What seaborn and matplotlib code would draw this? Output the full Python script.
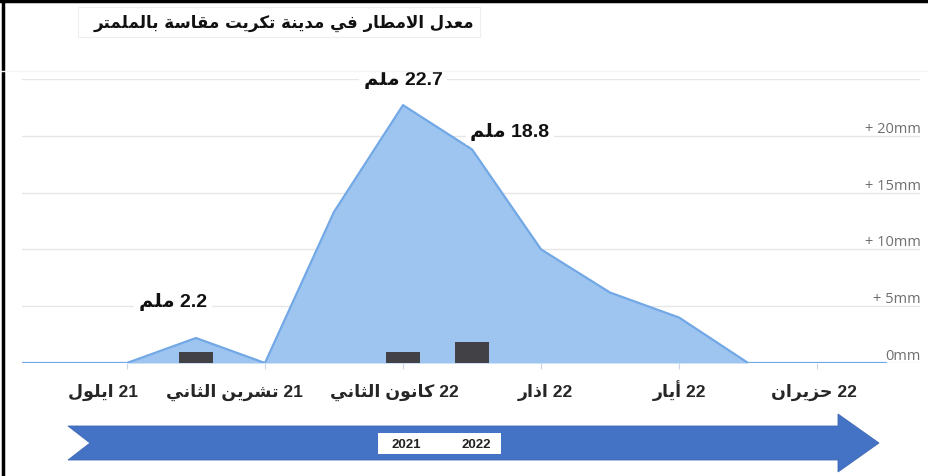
import numpy as np
import seaborn as sns
import matplotlib.pyplot as plt
import matplotlib.transforms as mtransforms
from matplotlib.patches import Polygon, Rectangle
from matplotlib.lines import Line2D

# monthly rainfall (mm), one point per month, index 0 = Sep 2021
months_idx = list(range(11))
rain = [0, 2.2, 0, 13.3, 22.7, 18.8, 10.0, 6.2, 4.0, 0, 0]

# dark bars (previous season)
bar_idx = [1, 4, 5]
bar_vals = [1.0, 1.0, 1.85]

# labelled points
label_idx = [1, 4, 5]
label_vals = [2.2, 22.7, 18.8]

tick_idx = [0, 2, 4, 6, 8, 10]
tick_months = ['ايلول', 'تشرين الثاني', 'كانون الثاني', 'اذار', 'أيار', 'حزيران']
tick_years = ['21', '21', '22', '22', '22', '22']

yticks = [0, 5, 10, 15, 20, 25]
ytick_labels = ['0mm', '+ 5mm', '+ 10mm', '+ 15mm', '+ 20mm', '']

title = 'معدل الامطار في مدينة تكريت مقاسة بالملمتر'
unit = 'ملم'
years = ['2021', '2022']

# --- minimal arabic shaping (matplotlib has no bidi / joining) ---
FORMS = {
    'ا': ('\uFE8D', '\uFE8E', None, None),
    'أ': ('\uFE83', '\uFE84', None, None),
    'ب': ('\uFE8F', '\uFE90', '\uFE91', '\uFE92'),
    'ة': ('\uFE93', '\uFE94', None, None),
    'ت': ('\uFE95', '\uFE96', '\uFE97', '\uFE98'),
    'ث': ('\uFE99', '\uFE9A', '\uFE9B', '\uFE9C'),
    'ح': ('\uFEA1', '\uFEA2', '\uFEA3', '\uFEA4'),
    'د': ('\uFEA9', '\uFEAA', None, None),
    'ذ': ('\uFEAB', '\uFEAC', None, None),
    'ر': ('\uFEAD', '\uFEAE', None, None),
    'ز': ('\uFEAF', '\uFEB0', None, None),
    'س': ('\uFEB1', '\uFEB2', '\uFEB3', '\uFEB4'),
    'ش': ('\uFEB5', '\uFEB6', '\uFEB7', '\uFEB8'),
    'ط': ('\uFEC1', '\uFEC2', '\uFEC3', '\uFEC4'),
    'ع': ('\uFEC9', '\uFECA', '\uFECB', '\uFECC'),
    'ف': ('\uFED1', '\uFED2', '\uFED3', '\uFED4'),
    'ق': ('\uFED5', '\uFED6', '\uFED7', '\uFED8'),
    'ك': ('\uFED9', '\uFEDA', '\uFEDB', '\uFEDC'),
    'ل': ('\uFEDD', '\uFEDE', '\uFEDF', '\uFEE0'),
    'م': ('\uFEE1', '\uFEE2', '\uFEE3', '\uFEE4'),
    'ن': ('\uFEE5', '\uFEE6', '\uFEE7', '\uFEE8'),
    'و': ('\uFEED', '\uFEEE', None, None),
    'ي': ('\uFEF1', '\uFEF2', '\uFEF3', '\uFEF4'),
}
LAM_ALEF = {'ا': ('\uFEFB', '\uFEFC'), 'أ': ('\uFEF7', '\uFEF8')}


def shape(text):
    units = []
    i = 0
    while i < len(text):
        c = text[i]
        if c == 'ل' and i + 1 < len(text) and text[i + 1] in LAM_ALEF:
            units.append(('LA', text[i + 1]))
            i += 2
        else:
            units.append(('C', c))
            i += 1

    def joins_next(u):
        return u[0] == 'C' and u[1] in FORMS and FORMS[u[1]][2] is not None

    def is_ar(u):
        return u[0] == 'LA' or u[1] in FORMS

    out = []
    for k, u in enumerate(units):
        prev_ok = k > 0 and joins_next(units[k - 1]) and is_ar(u)
        next_ok = k + 1 < len(units) and joins_next(u) and is_ar(units[k + 1])
        if u[0] == 'LA':
            out.append(LAM_ALEF[u[1]][1 if prev_ok else 0])
            continue
        if u[1] not in FORMS:
            out.append(u[1])
            continue
        f = FORMS[u[1]]
        if prev_ok and next_ok:
            out.append(f[3])
        elif prev_ok:
            out.append(f[1])
        elif next_ok:
            out.append(f[2])
        else:
            out.append(f[0])
    return ''.join(out)[::-1]


sns.set_style('white')
plt.rcParams['font.family'] = ['Liberation Sans', 'DejaVu Sans']

W, H = 929, 477
fig = plt.figure(figsize=(W / 100, H / 100), dpi=100)
ax = fig.add_axes([22 / W, 1 - 364 / H, 898 / W, 284 / H])
ax.set_facecolor('none')

fill_c = '#9ec5ef'
line_c = '#72a8e6'

x_line = np.r_[-1.52, months_idx, 11.0]
y_line = np.r_[0, rain, 0]
ax.fill_between(x_line, y_line, 0, color=fill_c, lw=0, zorder=1)
sns.lineplot(x=x_line, y=y_line, ax=ax, color=line_c, lw=1.6, zorder=2)

sns.barplot(x=bar_idx, y=bar_vals, ax=ax, native_scale=True, width=0.48,
            color='#414146', saturation=1, linewidth=0, zorder=3)

ax.set_xlim(-1.52, 11.49)
ax.set_ylim(0, 25)
ax.set_yticks(yticks, ytick_labels)
ax.yaxis.grid(True, color='#e6e6e6', lw=1)
ax.set_axisbelow(True)
ax.tick_params(axis='y', left=False, right=False, labelleft=False,
               labelright=True, pad=-3, labelsize=10.5, labelcolor='#6f6f6f')
for t in ax.get_yticklabels():
    t.set_horizontalalignment('right')
    t.set_verticalalignment('bottom')
    t.set_fontfamily('Open Sans')

xlabels = [shape(m) + ' ' + y for m, y in zip(tick_months, tick_years)]
ax.set_xticks(tick_idx, xlabels)
ax.tick_params(axis='x', bottom=True, length=4, color='#c9d6e8', pad=19.5,
               labelsize=12.5)
label_shift = [-24, -31, -9, 4, 0, -3]
for t, dx in zip(ax.get_xticklabels(), label_shift):
    t.set_fontweight('bold')
    t.set_verticalalignment('baseline')
    t.set_transform(t.get_transform() + mtransforms.Affine2D().translate(dx, 0))
ax.set_xlabel('')
ax.set_ylabel('')
sns.despine(ax=ax, left=True, bottom=True)

# value labels
label_pos = [(0.67, 5.5), (4.0, 25.0), (5.55, 20.4)]
for v, (lx, ly) in zip(label_vals, label_pos):
    ax.text(lx, ly, shape(unit) + ' ' + f'{v:.1f}', ha='center', va='center',
            fontsize=14, fontweight='bold', color='#111111', zorder=5,
            bbox=dict(boxstyle='square,pad=0.25', fc='white', ec='none'))

# title box
fig.patches.append(Rectangle((78 / W, 1 - 38 / H), 402 / W, 30 / H,
                             transform=fig.transFigure, fc='white',
                             ec='#eeeeee', lw=0.8))
fig.text(474 / W, 1 - 23 / H, shape(title), ha='right', va='center',
         fontsize=12, fontweight='bold', color='#111111',
         family=['DejaVu Sans'])

# timeline arrow
pts = [(68, 427), (838, 427), (838, 415), (879, 444), (838, 473),
       (838, 461), (68, 461), (90, 444)]
fig.patches.append(Polygon([(x / W, 1 - y / H) for x, y in pts],
                           closed=True, transform=fig.transFigure,
                           fc='#4472c4', ec='#3f69b5', lw=0.6))
fig.patches.append(Rectangle((378 / W, 1 - 455 / H), 123 / W, 21 / H,
                             transform=fig.transFigure, fc='white', ec='none'))
for yr, xc in zip(years, [406, 476]):
    fig.text(xc / W, 1 - 445 / H, yr, ha='center', va='center',
             fontsize=9.5, fontweight='bold', color='#222222')

# frame lines
fig.add_artist(Line2D([0, 1], [1 - 1.5 / H, 1 - 1.5 / H], color='black',
                      lw=2.5, transform=fig.transFigure))
fig.add_artist(Line2D([2.5 / W, 2.5 / W], [0, 1], color='black', lw=2.5,
                      transform=fig.transFigure))
fig.add_artist(Line2D([0, 1], [1 - 72 / H, 1 - 72 / H], color='#f5f5f5',
                      lw=1, transform=fig.transFigure))

fig.savefig('out.png', dpi=100)
